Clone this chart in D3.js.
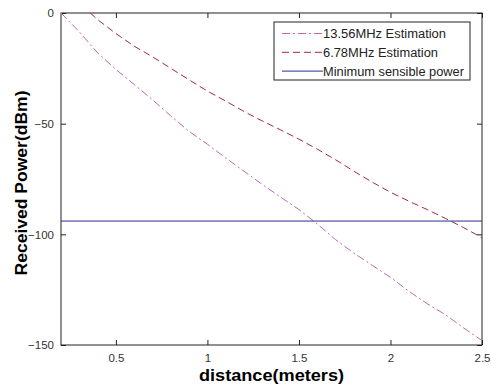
<!DOCTYPE html>
<html>
<head>
<meta charset="utf-8">
<script src="https://cdn.jsdelivr.net/npm/d3@7"></script>
<style>
  html, body { margin: 0; padding: 0; background: #fff; }
  svg { display: block; }
  text { font-family: "Liberation Sans", Arial, sans-serif; }
</style>
</head>
<body>
<svg id="chart" width="491" height="389"></svg>
<script>
// Received power versus distance for two carrier frequencies
const distance1356 = [0.2, 0.3, 0.4, 0.5, 0.6, 0.7, 0.8, 0.9, 1.0, 1.1, 1.2, 1.3, 1.4, 1.5, 1.6, 1.7, 1.8, 1.9, 2.0, 2.1, 2.2, 2.3, 2.4, 2.5];
const power1356 = [0, -8.5, -18, -25.5, -32.3, -39.2, -46.5, -53.5, -59.3, -65.5, -71.5, -77.5, -83.2, -88.8, -95.3, -102.4, -108.5, -114, -119.4, -125.7, -131.3, -136.3, -142.3, -148];
const distance678 = [0.36, 0.4, 0.5, 0.6, 0.7, 0.8, 0.9, 1.0, 1.1, 1.2, 1.3, 1.4, 1.5, 1.6, 1.7, 1.8, 1.9, 2.0, 2.1, 2.2, 2.3, 2.4, 2.5];
const power678 = [0, -3, -9.3, -15, -19.8, -25, -30.2, -35.3, -39.8, -44.5, -48.8, -52.8, -57, -61.5, -66.3, -71.5, -76.4, -81, -85, -88.8, -92.8, -97, -101.5];
const minSensiblePower = -94;

const xTicks = [0.5, 1, 1.5, 2, 2.5];
const yTicks = [0, -50, -100, -150];
const legendLabels = ["13.56MHz Estimation", "6.78MHz Estimation", "Minimum sensible power"];

const svg = d3.select("#chart");
const plotLeft = 61, plotRight = 482, plotTop = 13, plotBottom = 345;

const x = d3.scaleLinear().domain([0.2, 2.5]).range([plotLeft, plotRight]);
const y = d3.scaleLinear().domain([-150, 0]).range([plotBottom, plotTop]);

const colors = ["#c068a4", "#a8283c", "#2c2c90"];

// Axes with inward ticks, boxed frame
const tickStyle = g => {
  g.select(".domain").remove();
  g.selectAll(".tick line").attr("stroke", "#222");
  g.selectAll(".tick text").attr("fill", "#333").style("font-size", "11.5px");
};

svg.append("g")
  .attr("transform", `translate(0,${plotBottom})`)
  .call(d3.axisBottom(x).tickValues(xTicks).tickSizeInner(-5).tickSizeOuter(0).tickPadding(9)
    .tickFormat(d3.format("")))
  .call(tickStyle);

svg.append("g")
  .attr("transform", `translate(0,${plotTop})`)
  .call(d3.axisTop(x).tickValues(xTicks).tickSizeInner(-5).tickSizeOuter(0).tickFormat(""))
  .call(tickStyle);

svg.append("g")
  .attr("transform", `translate(${plotLeft},0)`)
  .call(d3.axisLeft(y).tickValues(yTicks).tickSizeInner(-5).tickSizeOuter(0).tickPadding(7))
  .call(tickStyle);

svg.append("g")
  .attr("transform", `translate(${plotRight},0)`)
  .call(d3.axisRight(y).tickValues(yTicks).tickSizeInner(-5).tickSizeOuter(0).tickFormat(""))
  .call(tickStyle);

svg.append("rect")
  .attr("x", plotLeft).attr("y", plotTop)
  .attr("width", plotRight - plotLeft).attr("height", plotBottom - plotTop)
  .attr("fill", "none").attr("stroke", "#222").attr("stroke-width", 1);

// Curves
const line = d3.line().x(d => x(d[0])).y(d => y(d[1]));

svg.append("path")
  .datum(distance1356.map((d, i) => [d, power1356[i]]))
  .attr("d", line)
  .attr("fill", "none").attr("stroke", colors[0]).attr("stroke-width", 1)
  .attr("stroke-dasharray", "8,3,2,3");

svg.append("path")
  .datum(distance678.map((d, i) => [d, power678[i]]))
  .attr("d", line)
  .attr("fill", "none").attr("stroke", colors[1]).attr("stroke-width", 1)
  .attr("stroke-dasharray", "7,4");

svg.append("line")
  .attr("x1", x(0.2)).attr("x2", x(2.5))
  .attr("y1", y(minSensiblePower)).attr("y2", y(minSensiblePower))
  .attr("stroke", colors[2]).attr("stroke-width", 1);

// Legend
const legend = svg.append("g").attr("transform", "translate(274,22)");
legend.append("rect")
  .attr("width", 196).attr("height", 58)
  .attr("fill", "#fff").attr("stroke", "#222").attr("stroke-width", 1);
const dashes = ["8,3,2,3", "7,4", null];
const legendWidths = [123, 115, 141];
legendLabels.forEach((lab, i) => {
  const yy = 11.5 + i * 18.8;
  legend.append("line")
    .attr("x1", 8).attr("x2", 49).attr("y1", yy).attr("y2", yy)
    .attr("stroke", colors[i]).attr("stroke-width", 1)
    .attr("stroke-dasharray", dashes[i]);
  legend.append("text")
    .attr("x", 49).attr("y", yy + 4.5)
    .attr("fill", "#222").style("font-size", "12px")
    .attr("textLength", legendWidths[i]).attr("lengthAdjust", "spacingAndGlyphs")
    .text(lab);
});

// Axis titles
svg.append("text")
  .attr("x", (plotLeft + plotRight) / 2).attr("y", 381)
  .attr("text-anchor", "middle")
  .style("font-size", "16px").style("font-weight", "bold")
  .attr("textLength", 145).attr("lengthAdjust", "spacingAndGlyphs")
  .text("distance(meters)");

svg.append("text")
  .attr("transform", `translate(27,183) rotate(-90)`)
  .attr("text-anchor", "middle")
  .style("font-size", "17px").style("font-weight", "bold")
  .attr("textLength", 185).attr("lengthAdjust", "spacingAndGlyphs")
  .text("Received Power(dBm)");
</script>
</body>
</html>
